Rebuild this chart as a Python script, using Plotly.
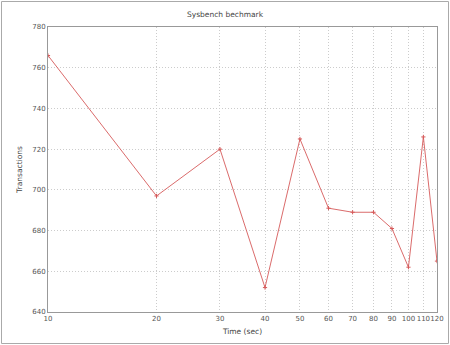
import plotly.graph_objects as go

time_sec = [10, 20, 30, 40, 50, 60, 70, 80, 90, 100, 110, 120]
transactions = [766, 697, 720, 652, 725, 691, 689, 689, 681, 662, 726, 665]
x_ticks = [10, 20, 30, 40, 50, 60, 70, 80, 90, 100, 110, 120]
y_ticks = [640, 660, 680, 700, 720, 740, 760, 780]

L, R, T, B = 48, 13, 27, 33
W, H = 450, 345
pw, ph = W - L - R, H - T - B

fig = go.Figure(go.Scatter(
    x=time_sec, y=transactions, mode="lines+markers",
    line=dict(color="#d65a5a", width=0.9),
    marker=dict(color="#d65a5a", size=3, symbol="cross-thin",
                line=dict(color="#d65a5a", width=1)),
))

axis_common = dict(
    showline=True, linecolor="#999999", linewidth=1, mirror=True,
    showgrid=True, gridcolor="#cccccc", griddash="1px,2px", gridwidth=1,
    ticks="", 
    tickfont=dict(family="DejaVu Sans", size=7, color="#555555"),
    tickangle=0, automargin=False,
    zeroline=False,
)

fig.update_layout(
    width=W, height=H,
    margin=dict(l=L, r=R, t=T, b=B),
    paper_bgcolor="white", plot_bgcolor="white",
    showlegend=False,
    title=dict(text="Sysbench bechmark", x=0.5, xanchor="center", y=1 - 14 / H, yanchor="middle",
               font=dict(family="DejaVu Sans", size=7.5, color="#444444")),
    xaxis=dict(type="log", range=[1, 2.0792], tickvals=x_ticks,
               ticktext=[str(v) for v in x_ticks],
               title=dict(text="Time (sec)", standoff=6,
                          font=dict(family="DejaVu Sans", size=7.5, color="#444444")),
               **axis_common),
    yaxis=dict(range=[640, 780], tickvals=y_ticks,
               title=dict(text="Transactions", standoff=8,
                          font=dict(family="DejaVu Sans", size=7.5, color="#444444")),
               **axis_common),
    shapes=[dict(type="rect", xref="paper", yref="paper",
                 x0=(1.5 - L) / pw, x1=(W - 1.5 - L) / pw,
                 y0=-(B - 1.5) / ph, y1=1 + (T - 1.5) / ph,
                 line=dict(color="#aaaaaa", width=1), layer="below")],
)

fig.write_html("out.html")
